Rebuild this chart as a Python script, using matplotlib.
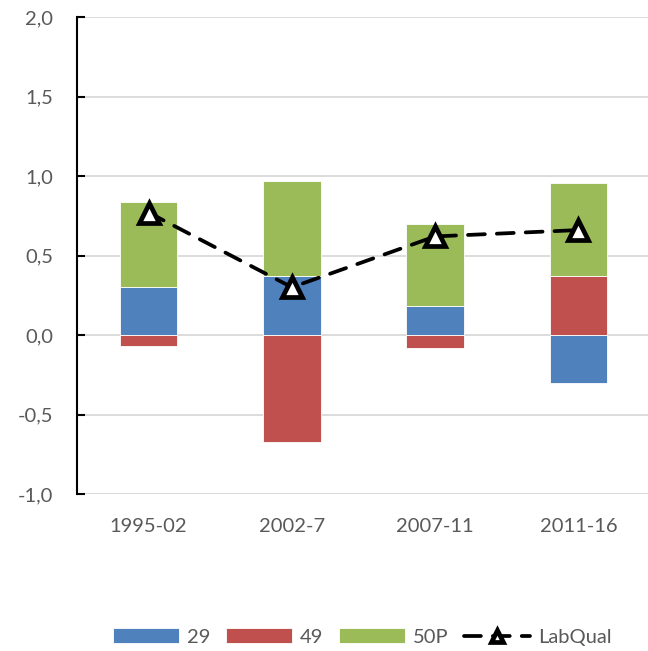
import numpy as np
import matplotlib
matplotlib.use('Agg')
import matplotlib.pyplot as plt

plt.rcParams['font.family'] = ['Lato', 'DejaVu Sans']

periods = ['1995-02', '2002-7', '2007-11', '2011-16']
s29 = [0.30, 0.37, 0.18, -0.30]
s49 = [-0.07, -0.67, -0.08, 0.37]
s50p = [0.535, 0.60, 0.52, 0.585]
labqual = [0.77, 0.30, 0.62, 0.66]

series = [('29', s29, '#4F81BD'), ('49', s49, '#C0504D'), ('50P', s50p, '#9BBB59')]
text_col = '#595959'

fig = plt.figure(figsize=(6.48, 6.51), dpi=100)
ax = fig.add_axes([77 / 648, 1 - 494 / 651, 573 / 648, 477 / 651])

x = np.arange(len(periods))
pos_base = np.zeros(len(periods))
neg_base = np.zeros(len(periods))
handles = []
for name, vals, col in series:
    vals = np.array(vals)
    base = np.where(vals >= 0, pos_base, neg_base)
    b = ax.bar(x, vals, 0.4, bottom=base, color=col, edgecolor='white',
               linewidth=0.6, label=name, zorder=2)
    handles.append(b)
    pos_base = pos_base + np.where(vals >= 0, vals, 0)
    neg_base = neg_base + np.where(vals < 0, vals, 0)

ln, = ax.plot(x, labqual, color='black', linestyle=(0, (4.5, 3.2)), linewidth=2.7,
              dash_capstyle='round', marker='^', markersize=15,
              markerfacecolor='white', markeredgecolor='black', markeredgewidth=3.4,
              label='LabQual', zorder=3)
handles.append(ln)

ax.set_xlim(-0.5, 3.5)
ax.set_ylim(-1.0, 2.0)
ax.set_yticks(np.arange(-1.0, 2.01, 0.5))
ax.set_yticklabels([('%.1f' % v).replace('.', ',') for v in np.arange(-1.0, 2.01, 0.5)])
ax.set_xticks(x)
ax.set_xticklabels(periods)

ax.grid(axis='y', color='#D9D9D9', linewidth=1.3, zorder=0)
ax.set_axisbelow(True)
for sp in ['top', 'right', 'bottom']:
    ax.spines[sp].set_visible(False)
ax.spines['left'].set_linewidth(1.5)
ax.spines['left'].set_color('black')

ax.tick_params(axis='y', direction='in', length=6, width=1.5, color='black',
               labelsize=14.5, labelcolor=text_col, pad=17)
ax.tick_params(axis='x', length=0, labelsize=14.5, labelcolor=text_col, pad=17)

fig.legend(handles=handles, labels=['29', '49', '50P', 'LabQual'],
           loc='center', bbox_to_anchor=(0.559, 0.0215), ncol=4, frameon=False,
           fontsize=14.5, labelcolor=text_col, handlelength=3.3, handleheight=0.7,
           handletextpad=0.4, columnspacing=0.75, markerscale=0.6)

fig.savefig('out.png', dpi=100)
